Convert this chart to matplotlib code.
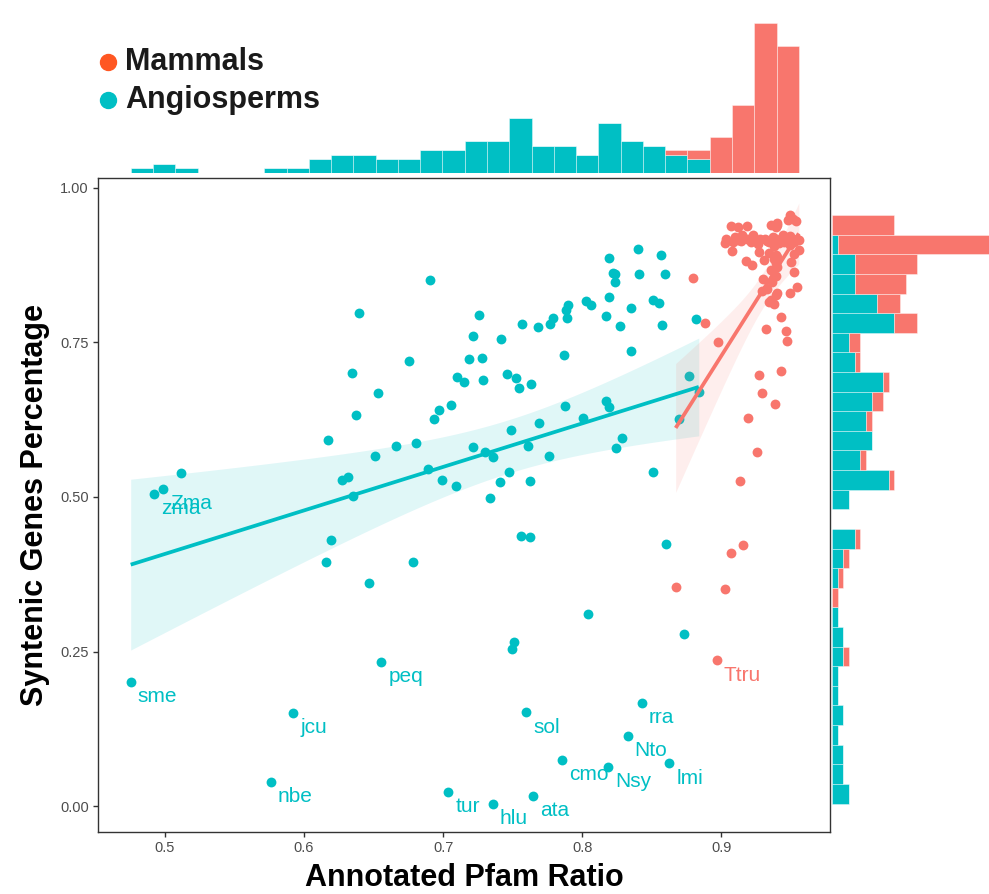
import numpy as np
import matplotlib
matplotlib.use('Agg')
import matplotlib.pyplot as plt
from matplotlib.lines import Line2D

plt.rcParams['font.family'] = ['Liberation Sans', 'DejaVu Sans']

TEAL = '#00BFC4'
RED = '#F8766D'
LEGEND_RED = '#FF5722'

# ---- data ----
# labelled angiosperms come first, the rest have no label
angio_names = ['zma', 'Zma', 'sme', 'peq', 'jcu', 'nbe', 'tur', 'hlu', 'ata',
               'sol', 'cmo', 'Nsy', 'Nto', 'rra', 'lmi']
angio_x = [0.492, 0.4988, 0.4755, 0.6556, 0.5923, 0.576, 0.7036, 0.7355, 0.7647,
           0.7597, 0.7854, 0.8185, 0.8326, 0.8429, 0.8626,
           0.512, 0.6907, 0.6393, 0.6758, 0.6343, 0.6535, 0.6372, 0.6971, 0.7053,
           0.6935, 0.7103, 0.6173, 0.651, 0.6664, 0.6808, 0.6276, 0.6319, 0.635,
           0.689, 0.6995, 0.7091, 0.6192, 0.6156, 0.6782, 0.6468,
           0.8038, 0.7508, 0.7496, 0.7559, 0.7624, 0.8604, 0.8734,
           0.7261, 0.7214, 0.7187, 0.7278, 0.7151, 0.7288, 0.7214, 0.7302,
           0.8403, 0.8568, 0.8194, 0.8218, 0.8235, 0.8235, 0.8405, 0.8595,
           0.819, 0.8024, 0.8065, 0.8353, 0.8508, 0.8551, 0.7899, 0.7883,
           0.7892, 0.8173, 0.8271, 0.8572, 0.8815, 0.7789, 0.7765, 0.7568,
           0.7679, 0.7417, 0.7866, 0.8353, 0.746, 0.7525, 0.7542, 0.7631,
           0.877, 0.7879, 0.817, 0.819, 0.7489, 0.7688, 0.8007, 0.7357,
           0.7612, 0.7758, 0.8288, 0.824, 0.7475, 0.741, 0.7626, 0.734,
           0.8506, 0.8695, 0.8837]
angio_y = [0.505, 0.513, 0.201, 0.2335, 0.151, 0.039, 0.023, 0.004, 0.017,
           0.152, 0.075, 0.0636, 0.1134, 0.1667, 0.0696,
           0.539, 0.851, 0.797, 0.720, 0.700, 0.668, 0.632, 0.641, 0.648,
           0.626, 0.694, 0.592, 0.566, 0.583, 0.588, 0.528, 0.533, 0.502,
           0.545, 0.528, 0.517, 0.430, 0.394, 0.394, 0.361,
           0.310, 0.266, 0.254, 0.437, 0.435, 0.424, 0.279,
           0.7945, 0.760, 0.7225, 0.7245, 0.686, 0.689, 0.581, 0.573,
           0.9005, 0.892, 0.886, 0.862, 0.860, 0.847, 0.861, 0.860,
           0.823, 0.817, 0.811, 0.806, 0.819, 0.813, 0.811, 0.8026,
           0.789, 0.793, 0.776, 0.778, 0.788, 0.790, 0.780, 0.780,
           0.775, 0.756, 0.730, 0.7365, 0.699, 0.693, 0.677, 0.683,
           0.696, 0.647, 0.656, 0.646, 0.609, 0.619, 0.627, 0.565,
           0.5825, 0.5667, 0.595, 0.579, 0.540, 0.5235, 0.526, 0.498,
           0.540, 0.626, 0.669]

mammal_names = ['Ttru']
mammal_x = [0.8967,
            # top cluster
            0.9353, 0.9396, 0.940, 0.9496, 0.9539, 0.9187, 0.907, 0.9515, 0.939, 0.912, 0.9475,
            0.903, 0.910, 0.914, 0.918, 0.921, 0.925, 0.928, 0.931, 0.934, 0.937,
            0.940, 0.939, 0.938, 0.949, 0.952, 0.9545, 0.9556, 0.9496, 0.941, 0.9376,
            0.9022, 0.9084, 0.915, 0.923, 0.933, 0.945, 0.926, 0.912, 0.944,
            0.9074, 0.934, 0.9304, 0.9395, 0.940, 0.939, 0.9173, 0.922, 0.9556, 0.950,
            0.938, 0.952, 0.927, 0.940,
            0.8796, 0.9353, 0.952, 0.9365, 0.954, 0.939, 0.930,
            0.9345, 0.933, 0.929, 0.9353, 0.940, 0.9395, 0.9496, 0.938,
            # scattered below
            0.8879, 0.9429, 0.9317, 0.9463, 0.8976, 0.9468, 0.9271, 0.9429, 0.929,
            0.9386, 0.9192, 0.9254, 0.9132, 0.9156, 0.9072, 0.8671, 0.9029]
mammal_y = [0.236,
            0.940, 0.943, 0.940, 0.956, 0.946, 0.939, 0.938, 0.950, 0.937, 0.936, 0.948,
            0.917, 0.920, 0.914, 0.918, 0.912, 0.916, 0.918, 0.918, 0.913, 0.920,
            0.915, 0.917, 0.917, 0.922, 0.912, 0.918, 0.915, 0.908, 0.911, 0.906,
            0.911, 0.913, 0.923, 0.924, 0.914, 0.913, 0.910, 0.915, 0.924,
            0.898, 0.894, 0.883, 0.892, 0.889, 0.878, 0.882, 0.875, 0.900, 0.880,
            0.885, 0.893, 0.896, 0.872,
            0.855, 0.867, 0.864, 0.848, 0.840, 0.858, 0.852,
            0.815, 0.836, 0.833, 0.819, 0.830, 0.827, 0.830, 0.812,
            0.782, 0.791, 0.771, 0.768, 0.751, 0.752, 0.698, 0.703, 0.668,
            0.650, 0.627, 0.5735, 0.526, 0.4215, 0.410, 0.354, 0.351]

groups = [('Angiosperms', angio_x, angio_y, angio_names, TEAL),
          ('Mammals', mammal_x, mammal_y, mammal_names, RED)]


def lm_band(x, y, n_grid=100, t=1.98):
    x = np.asarray(x, float)
    y = np.asarray(y, float)
    n = len(x)
    b1, b0 = np.polyfit(x, y, 1)
    grid = np.linspace(x.min(), x.max(), n_grid)
    fit = b0 + b1 * grid
    s = np.sqrt(np.sum((y - (b0 + b1 * x)) ** 2) / (n - 2))
    sxx = np.sum((x - x.mean()) ** 2)
    se = s * np.sqrt(1.0 / n + (grid - x.mean()) ** 2 / sxx)
    return grid, fit, fit - t * se, fit + t * se


W, H = 989, 894
fig = plt.figure(figsize=(W / 100, H / 100), dpi=100)


def box(l, t, r, b):
    return [l / W, 1 - b / H, (r - l) / W, (b - t) / H]


ax = fig.add_axes(box(98, 178, 830, 832))
ax_top = fig.add_axes(box(98, 14, 830, 173), sharex=ax)
ax_right = fig.add_axes(box(832, 178, 989, 832), sharey=ax)

# scatter + labels
for name, xs, ys, labs, col in groups:
    ax.scatter(xs, ys, s=50, color=col, linewidths=0, zorder=2)
    for i, lab in enumerate(labs):
        ax.annotate(lab, (xs[i], ys[i]), xytext=(7, -15), textcoords='offset pixels',
                    ha='left', va='center', fontsize=15, color=col, zorder=3)

# regression lines with confidence band
for name, xs, ys, labs, col in groups:
    gx, fit, lo, hi = lm_band(xs, ys)
    ax.fill_between(gx, lo, hi, color=col, alpha=0.12, linewidth=0, zorder=3)
    ax.plot(gx, fit, color=col, lw=2.7, zorder=4, solid_capstyle='butt')

ax.set_xlim(0.452, 0.978)
ax.set_ylim(-0.042, 1.016)
ax.set_xticks([0.5, 0.6, 0.7, 0.8, 0.9])
ax.set_xticklabels(['0.5', '0.6', '0.7', '0.8', '0.9'])
ax.set_yticks([0, 0.25, 0.5, 0.75, 1.0])
ax.set_yticklabels(['0.00', '0.25', '0.50', '0.75', '1.00'])
ax.tick_params(length=3.5, width=1, color='#333333', labelsize=10.5,
               labelcolor='#4D4D4D', pad=3)
for sp in ax.spines.values():
    sp.set_color('#333333')
    sp.set_linewidth(1)
ax.set_xlabel('Annotated Pfam Ratio', fontsize=22, fontweight='bold', labelpad=6)
ax.set_ylabel('Syntenic Genes Percentage', fontsize=22, fontweight='bold', labelpad=7)

# marginal histograms (30 bins over the pooled data, stacked)
all_x = np.concatenate([angio_x, mammal_x])
all_y = np.concatenate([angio_y, mammal_y])
xedges = np.linspace(all_x.min(), all_x.max(), 31)
yedges = np.linspace(all_y.min(), all_y.max(), 31)

cx_a, _ = np.histogram(angio_x, xedges)
cx_m, _ = np.histogram(mammal_x, xedges)
cy_a, _ = np.histogram(angio_y, yedges)
cy_m, _ = np.histogram(mammal_y, yedges)

edge = (1, 1, 1, 0.45)
ax_top.bar(xedges[:-1], cx_a, width=np.diff(xedges), align='edge', color=TEAL,
           edgecolor=edge, linewidth=0.6)
ax_top.bar(xedges[:-1], cx_m, width=np.diff(xedges), align='edge', bottom=cx_a,
           color=RED, edgecolor=edge, linewidth=0.6)
ax_top.set_ylim(0, 35)
ax_top.axis('off')

ax_right.barh(yedges[:-1], cy_a, height=np.diff(yedges), align='edge', color=TEAL,
              edgecolor=edge, linewidth=0.6)
ax_right.barh(yedges[:-1], cy_m, height=np.diff(yedges), align='edge', left=cy_a,
              color=RED, edgecolor=edge, linewidth=0.6)
ax_right.set_xlim(0, 27.7)
ax_right.axis('off')

# legend
for yy, lab, col in [(62, 'Mammals', LEGEND_RED), (100, 'Angiosperms', TEAL)]:
    fig.add_artist(Line2D([108 / W], [1 - yy / H], marker='o', markersize=11.5,
                          color=col, linestyle='none', transform=fig.transFigure))
    fig.text(125 / W, 1 - yy / H, lab, fontsize=22, fontweight='bold',
             color='#1A1A1A', va='center', ha='left')

fig.savefig('out.png', dpi=100)
